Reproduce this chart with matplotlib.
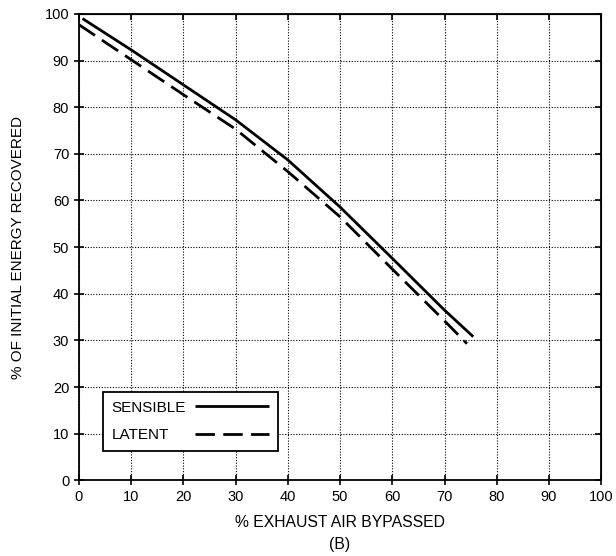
import matplotlib
matplotlib.use("Agg")
import matplotlib.pyplot as plt

# values
sensible_x = [0.7, 10, 20, 30, 40, 50, 60, 70, 75.5]
sensible_y = [99.0, 92.3, 84.8, 77.3, 68.7, 58.6, 47.6, 36.5, 30.8]
latent_x = [0, 10, 20, 30, 40, 50, 60, 70, 74.3]
latent_y = [97.7, 90.2, 82.7, 75.3, 66.2, 56.5, 45.3, 34.2, 29.3]
ticks = list(range(0, 101, 10))

plt.rcParams['font.family'] = ['Liberation Sans', 'DejaVu Sans']
plt.rcParams['font.size'] = 10

fig = plt.figure(figsize=(6.16, 5.56), dpi=100)
ax = fig.add_axes([0.128, 0.136, 0.848, 0.839])

ax.plot(sensible_x, sensible_y, color='black', lw=2.0, label='SENSIBLE',
        solid_capstyle='butt')
ax.plot(latent_x, latent_y, color='black', lw=2.0, dashes=(7.0, 3.0),
        label='LATENT', dash_capstyle='butt')

ax.set_xlim(0, 100)
ax.set_ylim(0, 100)
ax.set_xticks(ticks)
ax.set_yticks(ticks)
ax.grid(True, color='black', linestyle=(0, (1, 1.5)), linewidth=0.8)
ax.tick_params(direction='inout', length=7, width=1.2, colors='black',
               labelsize=10.5)
for s in ax.spines.values():
    s.set_linewidth(1.3)

# inward ticks on top and right
top = ax.secondary_xaxis('top')
top.set_xticks(ticks)
top.tick_params(direction='in', length=4, width=1.2, labeltop=False)
right = ax.secondary_yaxis('right')
right.set_yticks(ticks)
right.tick_params(direction='in', length=4, width=1.2, labelright=False)

ax.set_xlabel("% EXHAUST AIR BYPASSED\n(B)", fontsize=11.3, linespacing=1.6,
              labelpad=8)
ax.set_ylabel("% OF INITIAL ENERGY RECOVERED", fontsize=11, labelpad=14)

leg = ax.legend(loc='lower left', bbox_to_anchor=(0.0466, 0.0635),
                borderaxespad=0, markerfirst=False, fancybox=False,
                framealpha=1, edgecolor='black', fontsize=11,
                handlelength=4.85, borderpad=0.55, labelspacing=0.9,
                handletextpad=0.6)
leg.get_frame().set_linewidth(1.3)

# left-align the labels while keeping the line samples lined up
fig.canvas.draw()
renderer = fig.canvas.get_renderer()
texts = leg.get_texts()
widths = [t.get_window_extent(renderer).width for t in texts]
rows = leg._legend_handle_box.get_children()[0].get_children()
for row, w in zip(rows, widths):
    row.sep = row.sep + (max(widths) - w) * 72.0 / fig.dpi

fig.savefig("out.png", dpi=100)
